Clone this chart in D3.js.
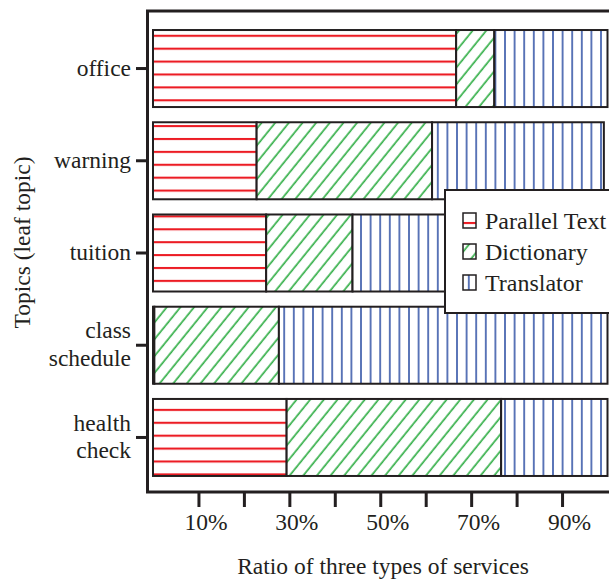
<!DOCTYPE html>
<html>
<head>
<meta charset="utf-8">
<script src="https://cdn.jsdelivr.net/npm/d3@7"></script>
<style>
  body { margin: 0; background: #fff; }
  svg { display: block; font-family: "Liberation Serif", "Times New Roman", serif; }
</style>
</head>
<body>
<svg id="chart" width="609" height="581"></svg>
<script>
// topics, top to bottom
var topics = ["office", "warning", "tuition", "class schedule", "health check"];
// share of each service, in percent
var parallelText = [66.7, 22.8, 24.9, 0.3, 29.4];
var dictionary   = [8.4, 38.6, 19.0, 27.4, 47.2];
var translator   = [24.9, 37.8, 56.1, 72.3, 23.4];
var services = ["Parallel Text", "Dictionary", "Translator"];
var xTicks = [10, 20, 30, 40, 50, 60, 70, 80, 90];

var ink = "#231f20";
var serif = "'Liberation Serif', 'Times New Roman', serif";
var svg = d3.select("#chart");

var rows = topics.map(function(t, i) {
  return { topic: t, "Parallel Text": parallelText[i], "Dictionary": dictionary[i], "Translator": translator[i] };
});
var series = d3.stack().keys(services)(rows);

var x = d3.scaleLinear().domain([0, 100]).range([153, 607.5]);
var y = d3.scaleBand().domain(topics).range([12.5, 493.5])
    .paddingInner(0.165).paddingOuter(0.19);

// hatch patterns
var defs = svg.append("defs");
var red = defs.append("pattern").attr("id", "hatch-0")
    .attr("patternUnits", "userSpaceOnUse").attr("width", 10).attr("height", 12.9)
    .attr("y", 4);
red.append("rect").attr("width", 10).attr("height", 12.9).attr("fill", "#fff");
red.append("line").attr("x1", 0).attr("x2", 10).attr("y1", 6).attr("y2", 6)
    .attr("stroke", "#ec1c24").attr("stroke-width", 2.1);

var green = defs.append("pattern").attr("id", "hatch-1")
    .attr("patternUnits", "userSpaceOnUse").attr("width", 10.6).attr("height", 10)
    .attr("patternTransform", "rotate(39)");
green.append("rect").attr("width", 10.6).attr("height", 10).attr("fill", "#fff");
green.append("line").attr("x1", 5).attr("x2", 5).attr("y1", 0).attr("y2", 10)
    .attr("stroke", "#36b04a").attr("stroke-width", 1.7);

var blue = defs.append("pattern").attr("id", "hatch-2")
    .attr("patternUnits", "userSpaceOnUse").attr("width", 9.6).attr("height", 10)
    .attr("x", 1);
blue.append("rect").attr("width", 9.6).attr("height", 10).attr("fill", "#fff");
blue.append("line").attr("x1", 4.8).attr("x2", 4.8).attr("y1", 0).attr("y2", 10)
    .attr("stroke", "#3757a8").attr("stroke-width", 1.6);

// bars
svg.append("g").selectAll("g")
  .data(series)
  .enter().append("g")
    .attr("fill", function(d, i) { return "url(#hatch-" + i + ")"; })
  .selectAll("rect")
  .data(function(d) { return d; })
  .enter().append("rect")
    .attr("x", function(d) { return x(d[0]); })
    .attr("y", function(d) { return y(d.data.topic); })
    .attr("width", function(d) { return x(d[1]) - x(d[0]); })
    .attr("height", y.bandwidth())
    .attr("stroke", ink)
    .attr("stroke-width", 2);

// frame
svg.append("rect")
    .attr("x", 147.5).attr("y", 11)
    .attr("width", 480).attr("height", 481)
    .attr("fill", "none").attr("stroke", ink).attr("stroke-width", 3);

// x axis
var xAxis = svg.append("g")
    .attr("transform", "translate(0,492)")
    .attr("font-family", serif)
    .call(d3.axisBottom(x).tickValues(xTicks).tickSize(15).tickPadding(6)
      .tickFormat(function(d) { return d % 20 === 10 ? d + "%" : ""; }));
xAxis.attr("font-family", serif).attr("font-size", 23.5);
xAxis.select(".domain").remove();
xAxis.selectAll("line").attr("stroke", ink).attr("stroke-width", 3);
xAxis.selectAll("text").attr("dx", 7).attr("fill", ink);

// y axis
var yAxis = svg.append("g")
    .attr("transform", "translate(147,0)")
    .call(d3.axisLeft(y).tickSize(11).tickPadding(5));
yAxis.attr("font-family", serif).attr("font-size", 23.5);
yAxis.select(".domain").remove();
yAxis.selectAll("line").attr("stroke", ink).attr("stroke-width", 3);
yAxis.selectAll("text").each(function(d) {
  var words = d.split(" ");
  var t = d3.select(this).text(null).attr("dy", null).attr("fill", ink);
  words.forEach(function(w, i) {
    t.append("tspan")
        .attr("x", -16)
        .attr("dy", i === 0 ? (0.3 - (words.length - 1) * 0.595) + "em" : "1.19em")
        .text(w);
  });
});

// axis titles
svg.append("text")
    .attr("x", 383).attr("y", 574)
    .attr("text-anchor", "middle").attr("fill", ink)
    .style("font-size", "23.5px")
    .text("Ratio of three types of services");

svg.append("text")
    .attr("transform", "translate(30,242.5) rotate(-90)")
    .attr("text-anchor", "middle").attr("fill", ink)
    .style("font-size", "23.5px")
    .text("Topics (leaf topic)");

// legend
var legend = svg.append("g");
legend.append("rect")
    .attr("x", 445).attr("y", 190).attr("width", 190).attr("height", 123)
    .attr("fill", "#fff").attr("stroke", ink).attr("stroke-width", 2);
var item = legend.selectAll("g.item")
  .data(services)
  .enter().append("g")
    .attr("class", "item")
    .attr("transform", function(d, i) { return "translate(463," + (213 + i * 31) + ")"; });
item.append("rect")
    .attr("width", 13).attr("height", 15)
    .attr("fill", function(d, i) { return "url(#hatch-" + i + ")"; })
    .attr("stroke", ink).attr("stroke-width", 1.5);
item.append("text")
    .attr("x", 22).attr("y", 16)
    .attr("fill", ink)
    .style("font-size", "24px")
    .text(function(d) { return d; });
</script>
</body>
</html>
